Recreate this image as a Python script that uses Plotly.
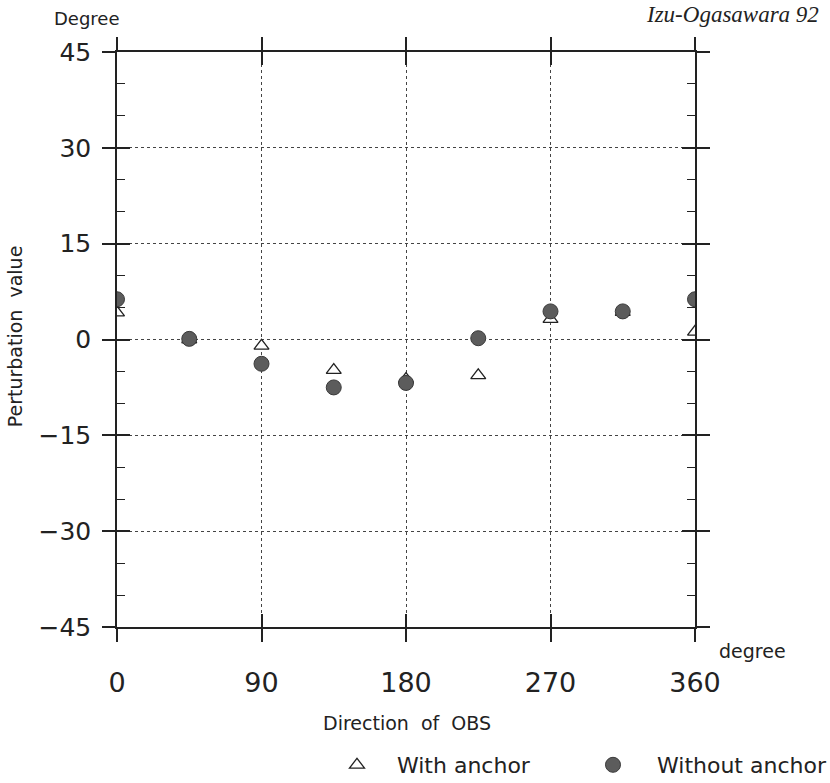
import plotly.graph_objects as go

# ---- data ----
directions = [0, 45, 90, 135, 180, 225, 270, 315, 360]
with_anchor = [4.2, 0.0, -1.0, -4.8, -6.2, -5.6, 3.2, 4.3, 1.2]
without_anchor = [6.3, 0.1, -3.8, -7.5, -6.8, 0.2, 4.4, 4.4, 6.3]

x_ticks = [0, 90, 180, 270, 360]
y_ticks = [-45, -30, -15, 0, 15, 30, 45]

INK = "#222222"
GRID = "#444444"
SANS = "DejaVu Sans"

fig = go.Figure()

fig.add_trace(go.Scatter(
    x=directions, y=with_anchor, mode="markers", name="With anchor",
    marker=dict(symbol="triangle-up", size=13, color="white",
                line=dict(color=INK, width=1.3)),
    xaxis="x", yaxis="y", legend="legend",
))
fig.add_trace(go.Scatter(
    x=directions, y=without_anchor, mode="markers", name="Without anchor",
    marker=dict(symbol="circle", size=15, color="#5c5c5c",
                line=dict(color="#3a3a3a", width=1)),
    xaxis="x2", yaxis="y2", legend="legend2",
))

axis_common = dict(showline=True, linecolor=INK, linewidth=1.5,
                   tickcolor=INK, tickwidth=1.5, zeroline=False, automargin=False)

legend_common = dict(orientation="h", xanchor="left", yanchor="middle",
                     font=dict(family=SANS, size=22, color=INK),
                     bgcolor="rgba(0,0,0,0)", borderwidth=0)

fig.update_layout(
    width=830, height=783,
    margin=dict(l=117, r=135, t=52, b=156, autoexpand=False),
    paper_bgcolor="white", plot_bgcolor="white",
    font=dict(family=SANS, color=INK),
    showlegend=True,
    legend=dict(x=0.346, y=-0.24, itemwidth=70, **legend_common),
    legend2=dict(x=0.782, y=-0.24, itemwidth=78, **legend_common),
    xaxis=dict(range=[0, 360], tickmode="array", tickvals=x_ticks,
               ticks="outside", ticklen=13, mirror="ticks",
               showgrid=True, gridcolor=GRID, griddash="dot", gridwidth=1,
               tickfont=dict(family=SANS, size=27, color=INK),
               ticklabelstandoff=18, **axis_common),
    yaxis=dict(range=[-45, 45], tickmode="array", tickvals=y_ticks,
               ticks="outside", ticklen=13, mirror="ticks",
               showgrid=True, gridcolor=GRID, griddash="dot", gridwidth=1,
               tickfont=dict(family=SANS, size=25, color=INK),
               ticklabelstandoff=6, **axis_common),
    xaxis2=dict(range=[0, 360], overlaying="x", anchor="y2", tickmode="array",
                tickvals=x_ticks, ticks="inside", ticklen=13, mirror="ticks",
                showgrid=False, showticklabels=False, **axis_common),
    yaxis2=dict(range=[-45, 45], overlaying="y", anchor="x2", tickmode="array",
                tickvals=y_ticks, ticks="inside", ticklen=13, mirror="ticks",
                showgrid=False, showticklabels=False,
                minor=dict(dtick=5, ticks="inside", ticklen=8, tickcolor=INK,
                           tickwidth=1.3, showgrid=False),
                **axis_common),
)

ann = [
    dict(text="Degree", x=-0.052, y=1.059, xanchor="center", yanchor="middle",
         font=dict(family=SANS, size=18, color=INK)),
    dict(text="<i>Izu-Ogasawara 92</i>", x=1.218, y=1.066, xanchor="right", yanchor="middle",
         font=dict(family="Liberation Serif", size=23, color=INK)),
    dict(text="Perturbation  value", x=-0.176, y=0.506, textangle=-90,
         xanchor="center", yanchor="middle",
         font=dict(family=SANS, size=19, color=INK)),
    dict(text="Direction  of  OBS", x=0.501, y=-0.167, xanchor="center", yanchor="middle",
         font=dict(family=SANS, size=19, color=INK)),
    dict(text="degree", x=1.100, y=-0.042, xanchor="center", yanchor="middle",
         font=dict(family=SANS, size=19, color=INK)),
]
for a in ann:
    a.update(xref="paper", yref="paper", showarrow=False)
fig.update_layout(annotations=ann)

fig.write_html("out.html",
               config={"displayModeBar": False},
               post_script="document.body.style.margin='0';document.body.style.overflow='hidden';")
